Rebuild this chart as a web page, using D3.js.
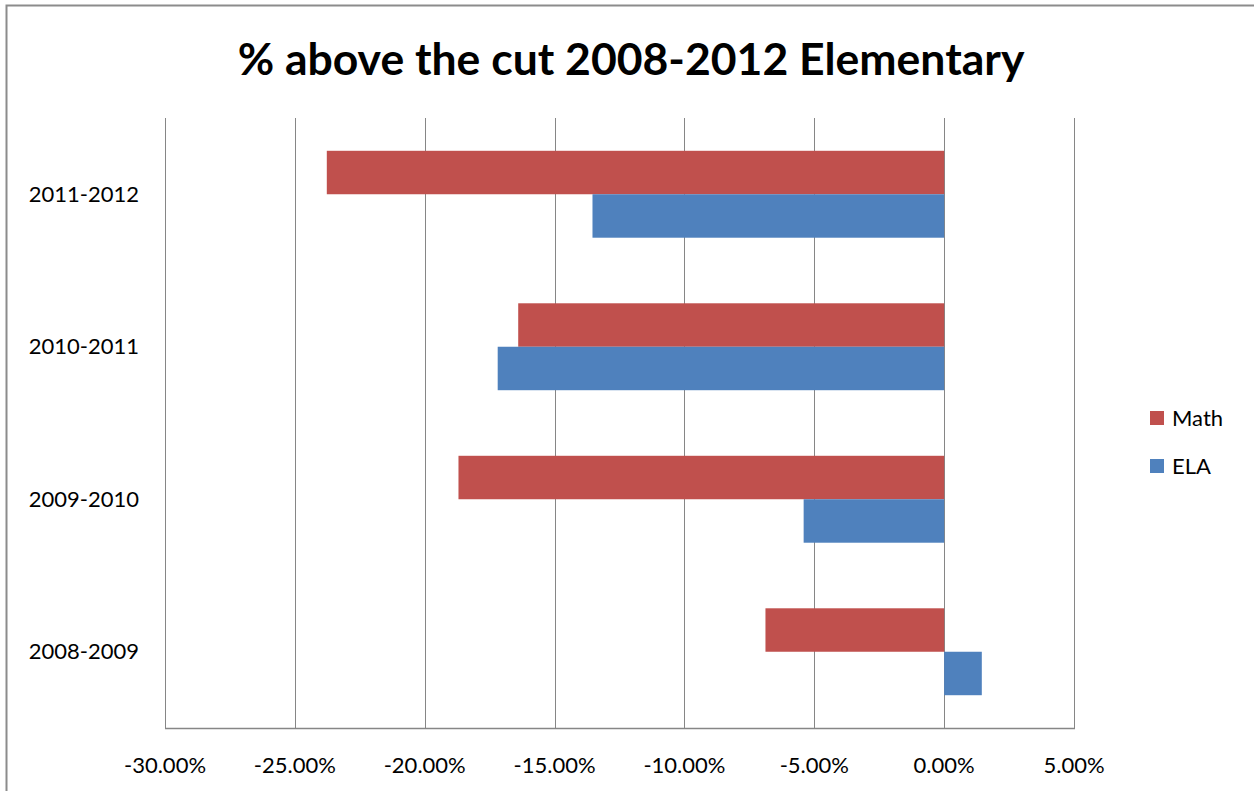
<!DOCTYPE html>
<html>
<head>
<meta charset="utf-8">
<script src="https://cdn.jsdelivr.net/npm/d3@7"></script>
<style>
  body { margin: 0; background: #fff; }
  svg { display: block; font-family: Lato, "Open Sans", sans-serif; }
</style>
</head>
<body>
<div id="chart"></div>
<script>
// data
var years = ["2011-2012", "2010-2011", "2009-2010", "2008-2009"];
var seriesNames = ["Math", "ELA"];
var mathValues = [-0.2377, -0.1640, -0.1870, -0.0688];
var elaValues = [-0.1354, -0.1719, -0.0541, 0.0145];
var xTicks = [-0.30, -0.25, -0.20, -0.15, -0.10, -0.05, 0, 0.05];
var colors = ["#C0504D", "#4F81BD"];

var width = 1254, height = 791;
var margin = {top: 118, right: 180, bottom: 63, left: 165};

var svg = d3.select("#chart").append("svg")
    .attr("width", width)
    .attr("height", height);

// chart border (cut off at right / bottom like the picture)
svg.append("rect")
    .attr("x", 6.5).attr("y", 5.5)
    .attr("width", width + 10).attr("height", height + 10)
    .attr("fill", "none")
    .attr("stroke", "#8c8c8c")
    .attr("stroke-width", 2);

// title
svg.append("text")
    .attr("x", 631).attr("y", 75)
    .attr("text-anchor", "middle")
    .style("font-size", "44.5px")
    .style("font-weight", "bold")
    .attr("fill", "#000")
    .text("% above the cut 2008-2012 Elementary");

var g = svg.append("g")
    .attr("transform", "translate(" + margin.left + "," + margin.top + ")");

var x = d3.scaleLinear().domain([-0.30, 0.05]).range([0, 909]);

var y = d3.scaleBand().domain(years).range([0, 610])
    .paddingInner(0.43).paddingOuter(0.215);

var ySub = d3.scaleBand().domain(seriesNames).range([0, y.bandwidth()]);

// gridlines
g.append("g").selectAll("line")
    .data(xTicks)
  .enter().append("line")
    .attr("x1", function(d) { return Math.round(x(d)) + 0.5; })
    .attr("x2", function(d) { return Math.round(x(d)) + 0.5; })
    .attr("y1", 0).attr("y2", 610)
    .attr("stroke", "#868686")
    .attr("stroke-width", 1);

// bottom axis line
g.append("line")
    .attr("x1", 0).attr("x2", x(0.05) + 1)
    .attr("y1", 610.5).attr("y2", 610.5)
    .attr("stroke", "#868686")
    .attr("stroke-width", 1.5);

// bars
var rows = years.map(function(yr, i) {
  return [{year: yr, s: "Math", v: mathValues[i]}, {year: yr, s: "ELA", v: elaValues[i]}];
});

g.append("g").selectAll("g")
    .data(rows)
  .enter().append("g")
    .attr("transform", function(d) { return "translate(0," + y(d[0].year) + ")"; })
  .selectAll("rect")
    .data(function(d) { return d; })
  .enter().append("rect")
    .attr("x", function(d) { return x(Math.min(0, d.v)); })
    .attr("y", function(d) { return ySub(d.s); })
    .attr("width", function(d) { return Math.abs(x(d.v) - x(0)); })
    .attr("height", ySub.bandwidth())
    .attr("fill", function(d) { return colors[seriesNames.indexOf(d.s)]; });

// x tick labels (plain hyphen for minus)
var pct = d3.format(".2%");
g.append("g").selectAll("text")
    .data(xTicks)
  .enter().append("text")
    .attr("x", function(d) { return x(d); })
    .attr("y", 655)
    .attr("text-anchor", "middle")
    .style("font-size", "22px")
    .attr("fill", "#000")
    .text(function(d) { return pct(d).replace("\u2212", "-"); });

// category labels
g.append("g").selectAll("text")
    .data(years)
  .enter().append("text")
    .attr("x", -26)
    .attr("y", function(d) { return y(d) + y.bandwidth() / 2; })
    .attr("dy", "0.35em")
    .attr("text-anchor", "end")
    .style("font-size", "22px")
    .attr("fill", "#000")
    .text(function(d) { return d; });

// legend
var legend = svg.append("g").selectAll("g")
    .data(seriesNames)
  .enter().append("g")
    .attr("transform", function(d, i) { return "translate(1150," + (411 + i * 48) + ")"; });

legend.append("rect")
    .attr("width", 14).attr("height", 14)
    .attr("fill", function(d, i) { return colors[i]; });

legend.append("text")
    .attr("x", 22).attr("y", 7)
    .attr("dy", "0.35em")
    .style("font-size", "22px")
    .attr("fill", "#000")
    .text(function(d) { return d; });
</script>
</body>
</html>
